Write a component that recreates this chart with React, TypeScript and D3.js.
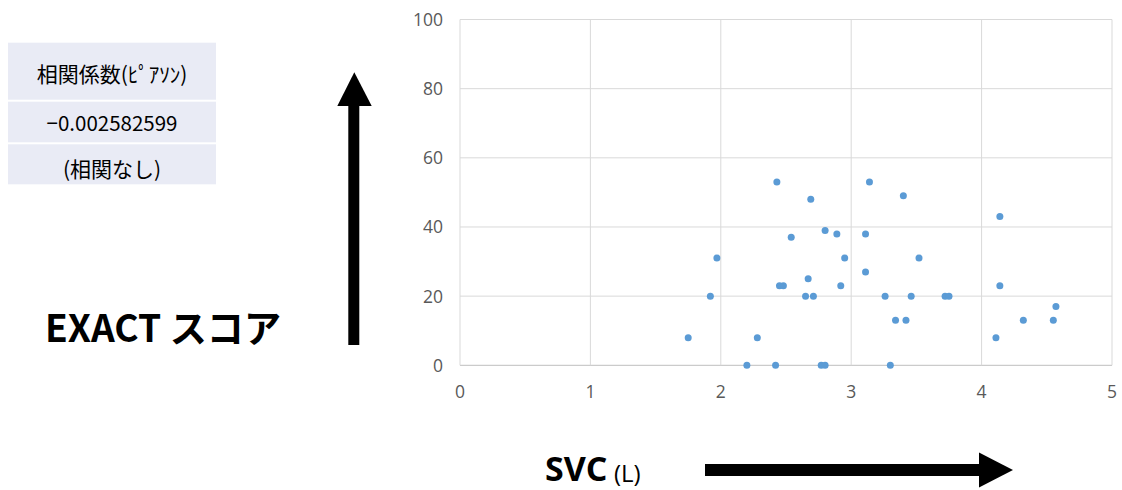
import React from "react";
import * as d3 from "d3";

const svcValues = [2.43, 3.14, 3.4, 2.69, 2.8, 2.89, 3.11, 2.54, 1.97, 2.95, 3.52, 2.67, 3.11, 2.45, 2.48, 2.92, 1.92, 2.65, 2.71, 3.26, 3.46, 3.34, 3.42, 1.75, 2.28, 2.2, 2.42, 2.77, 2.8, 3.3, 4.14, 3.72, 3.75, 4.14, 4.57, 4.32, 4.55, 4.11];
const exactValues = [53, 53, 49, 48, 39, 38, 38, 37, 31, 31, 31, 25, 27, 23, 23, 23, 20, 20, 20, 20, 20, 13, 13, 8, 8, 0, 0, 0, 0, 0, 43, 20, 20, 23, 17, 13, 13, 8];
const xTicks = [0, 1, 2, 3, 4, 5];
const yTicks = [0, 20, 40, 60, 80, 100];
const tableRows = ["相関係数(ﾋﾟｱｿﾝ)", "−0.002582599", "(相関なし)"];

const W = 1122;
const H = 490;
const plot = { left: 460, right: 1112, top: 19.5, bottom: 365.3 };

export default function App() {
  const x = d3.scaleLinear().domain([0, 5]).range([plot.left, plot.right]);
  const y = d3.scaleLinear().domain([0, 100]).range([plot.bottom, plot.top]);
  const jp = "'Noto Sans CJK JP', 'Noto Sans', sans-serif";
  const latin = "'Open Sans', 'Noto Sans', sans-serif";
  const rowTops = [42.7, 101.7, 144.3];
  const rowBottoms = [99.7, 142.3, 184.3];
  const baselines = [82, 131, 177];
  const sizes = [21, 20.5, 21];
  return (
    <svg
      width={W}
      height={H}
      style={{ position: "absolute", left: 0, top: 0, background: "#fff" }}
    >
      {/* table */}
      {tableRows.map((t, i) => (
        <g key={i}>
          <rect x={8} y={rowTops[i]} width={208} height={rowBottoms[i] - rowTops[i]} fill="#e9ebf5" />
          <text x={112} y={baselines[i]} textAnchor="middle" fontFamily={jp} fontSize={sizes[i]} fill="#000">
            {t}
          </text>
        </g>
      ))}

      {/* gridlines */}
      {yTicks.map((t) => (
        <line key={"gy" + t} x1={plot.left} x2={plot.right} y1={y(t)} y2={y(t)} stroke={t === 0 ? "#bfbfbf" : "#d9d9d9"} strokeWidth={1} />
      ))}
      {xTicks.map((t) => (
        <line key={"gx" + t} x1={x(t)} x2={x(t)} y1={plot.top} y2={plot.bottom} stroke="#d9d9d9" strokeWidth={1} />
      ))}

      {/* tick labels */}
      {yTicks.map((t) => (
        <text key={"ty" + t} x={443} y={y(t) + 6.5} textAnchor="end" fontFamily={latin} fontSize={17.5} fill="#595959">
          {t}
        </text>
      ))}
      {xTicks.map((t) => (
        <text key={"tx" + t} x={x(t)} y={398} textAnchor="middle" fontFamily={latin} fontSize={17.5} fill="#595959">
          {t}
        </text>
      ))}

      {/* points */}
      {svcValues.map((v, i) => (
        <circle key={i} cx={x(v)} cy={y(exactValues[i])} r={3.5} fill="#5b9bd5" />
      ))}

      {/* up arrow */}
      <rect x={348.3} y={104} width={11} height={241} fill="#000" />
      <polygon points="354.3,72.3 371.7,106 337.3,106" fill="#000" />

      {/* right arrow */}
      <rect x={705} y={464} width={276} height={12} fill="#000" />
      <polygon points="979,452.5 1013,470 979,487.5" fill="#000" />

      {/* axis titles */}
      <text x={45} y={342} fontFamily={jp} fontWeight="bold" fontSize={38} fill="#000" textLength={236} lengthAdjust="spacingAndGlyphs">
        EXACT スコア
      </text>
      <text x={545} y={481} fontFamily={latin} fontWeight="bold" fontSize={34} fill="#000">
        SVC
      </text>
      <text x={614} y={482} fontFamily={latin} fontSize={24} fill="#000">
        (L)
      </text>
    </svg>
  );
}
